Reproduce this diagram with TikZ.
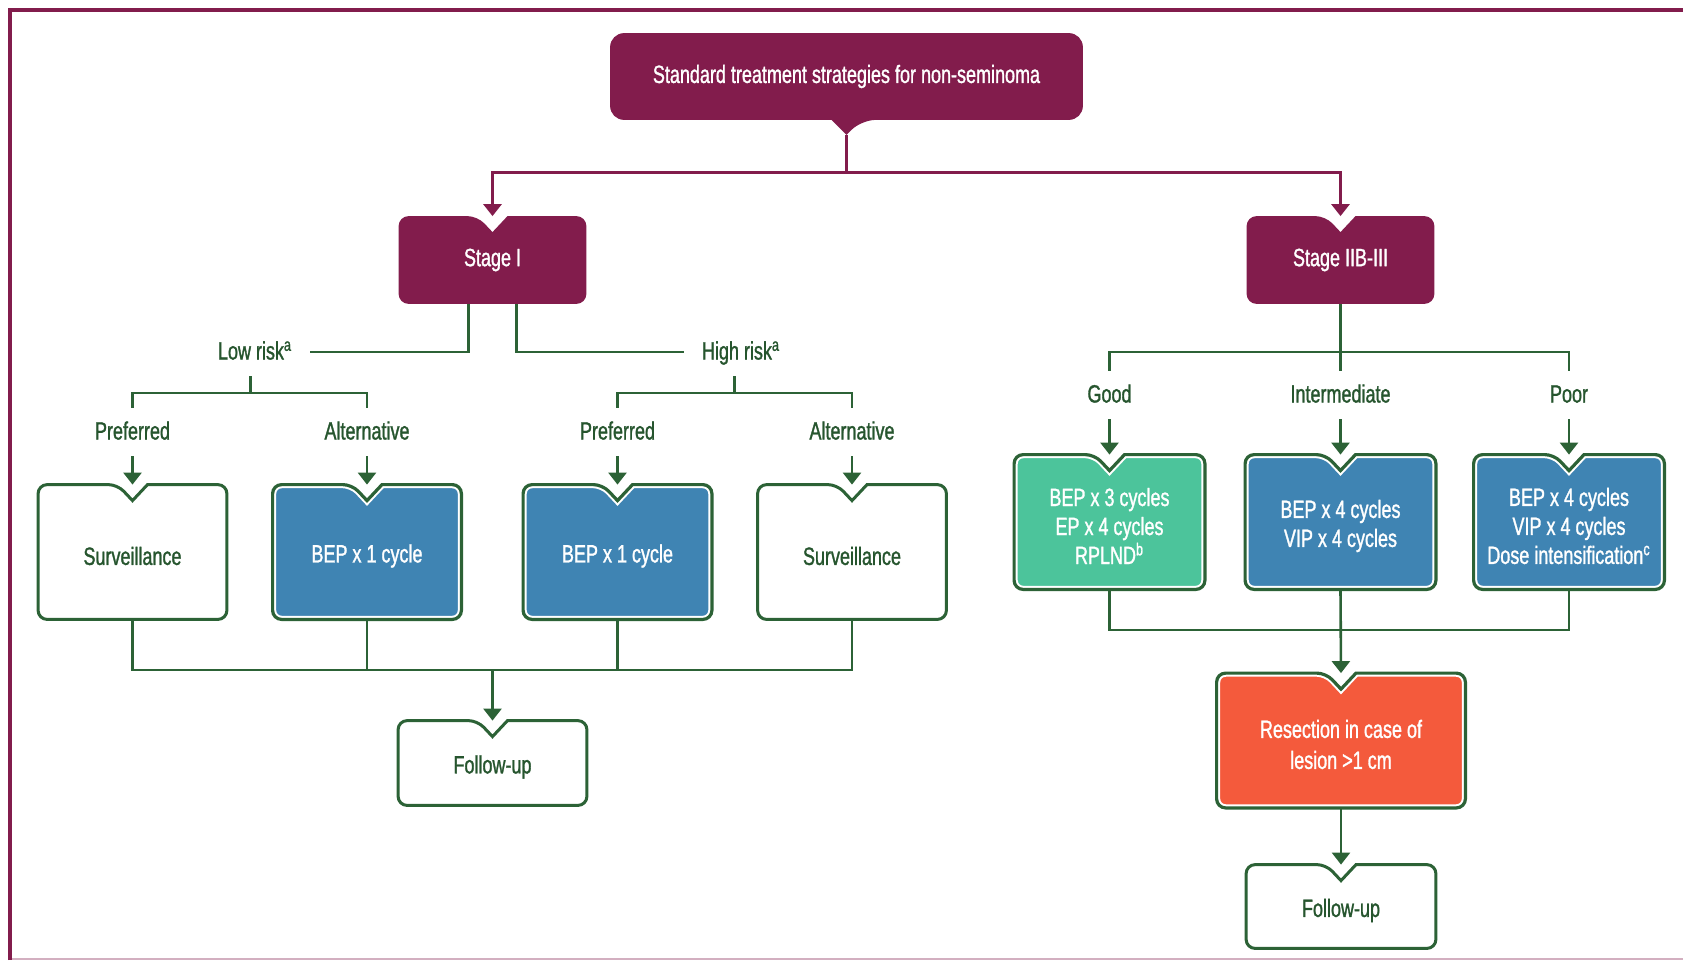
\documentclass[tikz,border=0pt]{standalone}
\usepackage{fontspec}
\setmainfont{Liberation Sans}[FakeStretch=0.72,FakeBold=1.2]
\usetikzlibrary{arrows.meta,backgrounds,calc}
\definecolor{pur}{RGB}{130,28,76}
\definecolor{grn}{RGB}{44,98,54}
\definecolor{txg}{RGB}{38,85,46}
\definecolor{bluebox}{RGB}{63,132,179}
\definecolor{tealbox}{RGB}{76,196,155}
\definecolor{orabox}{RGB}{244,90,60}
% strut that lowers the text a little inside notched boxes
\newcommand\tstrut{\rule{0pt}{13pt}}
% outline of a box with a V notch on its top edge
\newcommand\notchout[2]{(#1.west) [rounded corners=#2] -- (#1.north west) -- ([shift={(-15,0)}]#1.north) [sharp corners] -- ([shift={(0,16)}]#1.north) -- ([shift={(15,0)}]#1.north) [rounded corners=#2] -- (#1.north east) -- (#1.south east) -- (#1.south west) -- cycle}
% outline of a box with a V pointer below its bottom edge
\newcommand\pointout[2]{(#1.west) [rounded corners=#2] -- (#1.north west) -- (#1.north east) -- (#1.south east) -- ([shift={(15,0)}]#1.south) [sharp corners] -- ([shift={(0,15)}]#1.south) -- ([shift={(-15,0)}]#1.south) [rounded corners=#2] -- (#1.south west) -- cycle}
\newcommand\fillbox[2]{\fill[#2] \notchout{#1}{4.5pt}; \draw[white,line width=3.6pt] \notchout{#1}{4.5pt}; \draw[grn,line width=1.6pt] \notchout{#1}{4.5pt};}
\newcommand\plainbox[1]{\draw[grn,line width=1.5pt,fill=white] \notchout{#1}{4.5pt};}
\newcommand\purbox[1]{\fill[pur] \notchout{#1}{5pt};}
\begin{document}
\begin{tikzpicture}[x=0.5pt,y=-0.5pt,
  txt/.style={font=\fontsize{12.5}{14.5}\selectfont},
  box/.style={txt,inner sep=0pt,align=center},
  stagebox/.style={box,text=white,minimum width=93.5pt,minimum height=43.5pt},
  lbox/.style={box,minimum width=94pt,minimum height=67pt},
  rbox/.style={box,text=white,minimum width=95pt,minimum height=67pt},
  fubox/.style={box,text=txg,minimum width=94pt,minimum height=42pt},
  lab/.style={txt,text=txg,text height=9.5pt,text depth=2pt,inner ysep=6.25pt,inner xsep=9pt},
  gl/.style={grn,line width=1.3pt},
  pl/.style={pur,line width=1.5pt},
  arr/.style={-{Triangle[width=9pt,length=6pt]}}
]
\useasboundingbox (0,0) rectangle (1683,960);
% frame
\draw[pur!35,line width=0.6pt] (10,959) -- (1683,959);
\draw[pur,line width=2pt] (10,960) -- (10,10) -- (1683,10);

% nodes
\node[box,text=white,minimum width=236pt,minimum height=43pt] (title) at (846.5,76.5) {Standard treatment strategies for non-seminoma};
\node[stagebox] (s1) at (492.5,260) {Stage I};
\node[stagebox] (s2) at (1340.5,260) {Stage IIB-III};

\node[lab] (lowrisk) at (255,352) {Low risk\textsuperscript{a}};
\node[lab] (highrisk) at (741,352) {High risk\textsuperscript{a}};
\node[lab] (p1) at (132.5,432) {Preferred};
\node[lab] (p2) at (367,432) {Alternative};
\node[lab] (p3) at (617.5,432) {Preferred};
\node[lab] (p4) at (852,432) {Alternative};

\node[lbox,text=txg] (a1) at (132.5,552) {\tstrut Surveillance};
\node[lbox,text=white] (a2) at (367,552) {\tstrut BEP x 1 cycle};
\node[lbox,text=white] (a3) at (617.5,552) {\tstrut BEP x 1 cycle};
\node[lbox,text=txg] (a4) at (852,552) {\tstrut Surveillance};
\node[fubox] (fu1) at (492.5,763) {\tstrut Follow-up};

\node[lab] (l1) at (1109.5,395) {Good};
\node[lab] (l2) at (1340.5,395) {Intermediate};
\node[lab] (l3) at (1569,395) {Poor};

\node[rbox] (g1) at (1109.5,522) {\tstrut BEP x 3 cycles\\EP x 4 cycles\\RPLND\textsuperscript{b}};
\node[rbox] (g2) at (1340.5,522) {\tstrut BEP x 4 cycles\\VIP x 4 cycles};
\node[rbox] (g3) at (1569,522) {\tstrut BEP x 4 cycles\\VIP x 4 cycles\\Dose intensification\textsuperscript{c}};
\node[rbox,minimum width=124pt,font=\fontsize{12.5}{15.5}\selectfont] (res) at (1341,740.5) {\tstrut Resection in case of\\lesion >1 cm};
\node[fubox,minimum width=94.5pt,minimum height=41.5pt] (fu2) at (1341,906.5) {\tstrut Follow-up};

% box outlines
\begin{pgfonlayer}{background}
\fill[pur] \pointout{title}{7pt};
\purbox{s1}
\purbox{s2}
\plainbox{a1}
\fillbox{a2}{bluebox}
\fillbox{a3}{bluebox}
\plainbox{a4}
\plainbox{fu1}
\fillbox{g1}{tealbox}
\fillbox{g2}{bluebox}
\fillbox{g3}{bluebox}
\fillbox{res}{orabox}
\plainbox{fu2}
\end{pgfonlayer}

% connectors
\coordinate (tip) at ([shift={(0,15)}]title.south);
\coordinate (ytop) at (0,172);
\draw[pl,arr] (tip) |- (s1.north |- ytop) -- (s1.north);
\draw[pl,arr] (tip) |- (s2.north |- ytop) -- (s2.north);

\coordinate (yr) at (0,352);
\draw[gl] ([shift={(-24,0)}]s1.south) |- (lowrisk.east);
\draw[gl] ([shift={(24,0)}]s1.south) |- (highrisk.west);

\coordinate (lb) at (250.5,393);
\coordinate (hb) at (734.75,393);
\draw[gl] (lowrisk.south -| lb) -- (lb);
\draw[gl] (p1.north) |- (lb) -| (p2.north);
\draw[gl] (highrisk.south -| hb) -- (hb);
\draw[gl] (p3.north) |- (hb) -| (p4.north);

\draw[gl,arr] (p1.south) -- (a1.north);
\draw[gl,arr] (p2.south) -- (a2.north);
\draw[gl,arr] (p3.south) -- (a3.north);
\draw[gl,arr] (p4.south) -- (a4.north);

\coordinate (yl) at (0,670);
\draw[gl] (a1.south) |- (a4.south |- yl) -- (a4.south);
\draw[gl] (a2.south) -- (a2.south |- yl);
\draw[gl] (a3.south) -- (a3.south |- yl);
\draw[gl,arr] (fu1.north |- yl) -- (fu1.north);

\draw[gl] (s2.south) -- (l2.north);
\draw[gl] (l1.north) |- (s2.south |- yr) -| (l3.north);
\draw[gl,arr] (l1.south) -- (g1.north);
\draw[gl,arr] (l2.south) -- (g2.north);
\draw[gl,arr] (l3.south) -- (g3.north);

\coordinate (yb) at (0,630);
\draw[gl] (g1.south) |- (g3.south |- yb) -- (g3.south);
\draw[gl,arr] (g2.south) -- (res.north);
\draw[gl,arr] (res.south) -- (fu2.north);
\end{tikzpicture}
\end{document}
